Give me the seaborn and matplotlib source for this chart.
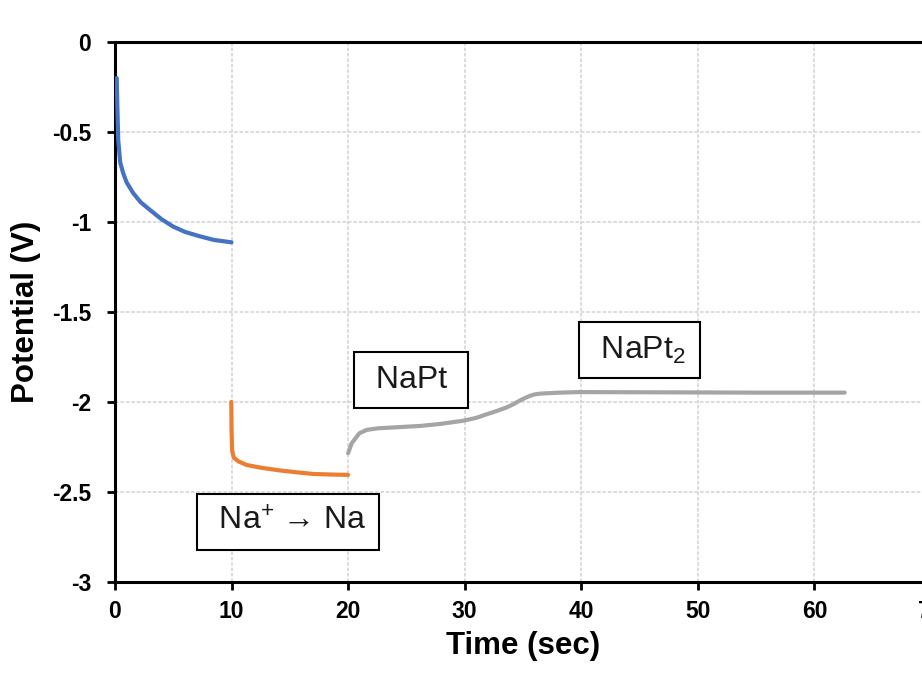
import pandas as pd
import matplotlib
matplotlib.use("Agg")
import matplotlib.pyplot as plt
import seaborn as sns

# time (sec) and potential (V)
blue_t = [0.15, 0.2, 0.28, 0.45, 0.71, 1.0, 1.57, 2.2, 3.0, 4.0, 5.0, 6.0, 7.3, 8.5, 10.0]
blue_v = [-0.2, -0.35, -0.545, -0.67, -0.73, -0.78, -0.84, -0.89, -0.933, -0.985,
          -1.026, -1.055, -1.08, -1.10, -1.113]

orange_t = [9.98, 10.0, 10.05, 10.2, 10.6, 11.3, 12.5, 14.1, 15.5, 17.0, 18.5, 20.0]
orange_v = [-2.0, -2.15, -2.27, -2.31, -2.33, -2.35, -2.365, -2.38, -2.39, -2.40, -2.403, -2.405]

gray_t = [20.0, 20.3, 20.96, 21.6, 22.6, 24.0, 26.2, 27.9, 29.9, 31.0, 31.9, 32.8, 33.6,
          34.2, 34.7, 35.2, 35.6, 36.0, 36.4, 37.2, 38.2, 39.8, 45.0, 50.0, 55.0, 60.0, 62.6]
gray_v = [-2.285, -2.23, -2.174, -2.155, -2.146, -2.141, -2.133, -2.122, -2.104, -2.088,
          -2.068, -2.049, -2.03, -2.012, -1.993, -1.977, -1.966, -1.958, -1.954, -1.951,
          -1.948, -1.945, -1.946, -1.947, -1.948, -1.948, -1.948]

x_ticks = [0, 10, 20, 30, 40, 50, 60, 70]
y_ticks = [0, -0.5, -1, -1.5, -2, -2.5, -3]
y_tick_labels = ['0', '-0.5', '-1', '-1.5', '-2', '-2.5', '-3']

# phase labels: text, x, y
labels = ['Na$^{+}$ \u2192 Na', 'NaPt', 'NaPt$_2$']
label_x = [14.85, 25.4, 45.0]
label_y = [-2.667, -1.878, -1.711]

df = pd.concat([
    pd.DataFrame({'t': blue_t, 'v': blue_v, 'step': 'a'}),
    pd.DataFrame({'t': orange_t, 'v': orange_v, 'step': 'b'}),
    pd.DataFrame({'t': gray_t, 'v': gray_v, 'step': 'c'}),
])
colors = {'a': '#4472C4', 'b': '#ED7D31', 'c': '#A5A5A5'}

sns.set_style('white')
plt.rcParams['font.family'] = ['Liberation Sans', 'DejaVu Sans']
plt.rcParams['mathtext.fontset'] = 'custom'
plt.rcParams['mathtext.rm'] = 'Liberation Sans'
plt.rcParams['mathtext.it'] = 'Liberation Sans:italic'
plt.rcParams['mathtext.bf'] = 'Liberation Sans:bold'
plt.rcParams['axes.unicode_minus'] = False
plt.rcParams['text.color'] = 'black'
plt.rcParams['axes.labelcolor'] = 'black'
plt.rcParams['xtick.color'] = 'black'
plt.rcParams['ytick.color'] = 'black'

fig = plt.figure(figsize=(9.22, 6.85), dpi=100)
ax = fig.add_axes([0.1247, 0.1504, 0.885, 0.7883])

sns.lineplot(data=df, x='t', y='v', hue='step', palette=colors, sort=False,
             estimator=None, linewidth=3, legend=False, ax=ax, zorder=3)

ax.set_xlim(0, 70)
ax.set_ylim(-3, 0)
ax.set_xticks(x_ticks)
ax.set_yticks(y_ticks)
ax.set_yticklabels(y_tick_labels)
ax.grid(True, color='#d9d9d9', linestyle=(0, (2, 1)), linewidth=1.3, zorder=0)

for s in ['top', 'left', 'bottom', 'right']:
    ax.spines[s].set_color('black')
    ax.spines[s].set_linewidth(2.2)

ax.tick_params(axis='both', which='major', direction='out', length=6, width=2,
               color='black', labelcolor='black', labelsize=16.5, bottom=True, left=True)
ax.tick_params(axis='x', pad=7)
ax.tick_params(axis='y', pad=11)
for lab in ax.get_xticklabels() + ax.get_yticklabels():
    lab.set_fontweight('bold')

ax.set_xlabel('Time (sec)', fontsize=22.5, fontweight='bold', labelpad=6)
ax.set_ylabel('Potential (V)', fontsize=22.5, fontweight='bold', labelpad=8)

for txt, x, y in zip(labels, label_x, label_y):
    ax.text(x, y, ' ' + txt + ' ', fontsize=23, ha='center', va='center', zorder=5,
            color='#1a1a1a',
            bbox=dict(boxstyle='square,pad=0.4', facecolor='white',
                      edgecolor='black', linewidth=1.5))

fig.savefig('out.png', dpi=100)
